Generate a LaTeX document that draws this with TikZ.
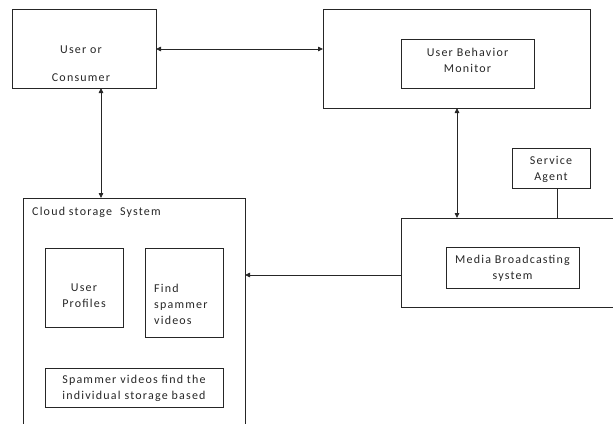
\documentclass[tikz,border=0pt]{standalone}
\usepackage{fontspec}
\setmainfont[LetterSpace=10]{Carlito}
\usetikzlibrary{arrows.meta}
\begin{document}
\begin{tikzpicture}[x=1pt,y=-1pt,
  box/.style={draw=black!85,line width=0.8pt},
  lbl/.style={font=\fontsize{12}{16}\selectfont,text=black!85,align=center,inner sep=0pt},
  link/.style={draw=black!85,line width=0.8pt},
  tip/.style={-{Triangle[length=5pt,width=4.5pt]}},
  tips/.style={{Triangle[length=5pt,width=4.5pt]}-{Triangle[length=5pt,width=4.5pt]}}]
\useasboundingbox (0,0) rectangle (613,423);
% upper left: the user
\draw[box] (12,9) rectangle (156,88);
\coordinate (userR) at (156,49);
\coordinate (userB) at (101,88);
\node[lbl] (userT) at (81,50) {User or};
\node[lbl] (userT2) at (81,78) {Consumer};
% upper right: behaviour monitor
\draw[box] (323,9) rectangle (590,108);
\coordinate (monL) at (323,49);
\coordinate (monB) at (457,108);
\draw[box] (401,39) rectangle (534,88);
\node[lbl] (monT) at (467.5,60) {User Behavior\\Monitor};
% service agent
\draw[box] (512,148) rectangle (590,188);
\coordinate (agB) at (557,188);
\node[lbl] (agT) at (551,169) {Service\\Agent};
% media broadcasting
\draw[box] (401,218) rectangle (620,307);
\coordinate (medT) at (457,218);
\coordinate (medT2) at (557,218);
\coordinate (medL) at (401,275);
\draw[box] (446,247) rectangle (579,288);
\node[lbl] (medTx) at (512.5,268.5) {Media Broadcasting\\system};
% cloud storage
\draw[box] (23,430) -- (23,198) -- (245,198) -- (245,430);
\coordinate (clT) at (101,198);
\coordinate (clR) at (245,275);
\node[lbl,anchor=west] (clTx) at (32,212) {Cloud storage\ \ System};
\draw[box] (45,248) rectangle (123,327);
\node[lbl] (upT) at (84,296) {User\\Profiles};
\draw[box] (145,248) rectangle (223,337);
\node[lbl,align=left,anchor=west] (fsT) at (154,304.5) {Find\\spammer\\videos};
\draw[box] (45,368) rectangle (223,407);
\node[lbl] (svT) at (134,388) {Spammer videos find the\\individual storage based};
% connectors
\draw[link,tips] (userR) -- (monL);
\draw[link,tips] (userB) -- (clT);
\draw[link,tips] (monB) -- (medT);
\draw[link] (agB) -- (medT2);
\draw[link,tip] (medL) -- (clR);
\end{tikzpicture}
\end{document}
